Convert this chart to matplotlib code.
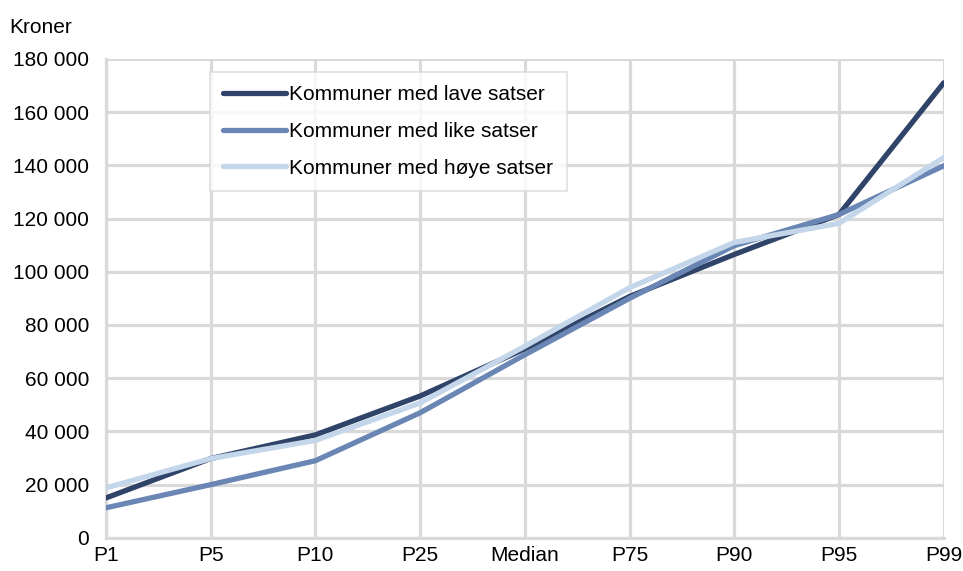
import matplotlib
matplotlib.use("Agg")
from matplotlib import pyplot as plt
from matplotlib.ticker import FuncFormatter

plt.rcParams['font.family'] = ['Liberation Sans', 'DejaVu Sans']

percentiles = ["P1", "P5", "P10", "P25", "Median", "P75", "P90", "P95", "P99"]
lave = [15000, 29800, 38700, 53300, 71000, 90700, 106500, 121500, 171000]
like = [11300, 20000, 29000, 47000, 68800, 90000, 109800, 121500, 139800]
hoye = [18800, 29800, 36600, 50700, 72000, 94000, 111000, 118200, 142900]

grid_col = "#d9d9d9"

fig = plt.figure(figsize=(9.63, 5.71), dpi=100)
ax = fig.add_axes([0.110, 0.058, 0.870, 0.839])

xs = list(range(len(percentiles)))
ax.plot(xs, lave, color="#2f4468", lw=3.8, solid_capstyle="round", label="Kommuner med lave satser", zorder=3)
ax.plot(xs, like, color="#6a86b4", lw=3.8, solid_capstyle="round", label="Kommuner med like satser", zorder=3)
ax.plot(xs, hoye, color="#c4d6e9", lw=3.8, solid_capstyle="round", label="Kommuner med høye satser", zorder=3)

ax.set_xlim(0, len(percentiles) - 1)
ax.set_ylim(0, 180000)
ax.set_xticks(xs)
ax.set_xticklabels(percentiles)
ax.set_yticks(range(0, 180001, 20000))
ax.yaxis.set_major_formatter(FuncFormatter(lambda v, p: "{:,}".format(int(v)).replace(",", " ")))
ax.tick_params(length=0, labelsize=15, colors="black")
ax.tick_params(axis="x", pad=6)
ax.tick_params(axis="y", pad=12)

ax.grid(True, color=grid_col, lw=2.3)
ax.set_axisbelow(True)
for s in ["top", "right"]:
    ax.spines[s].set_visible(False)
for s in ["left", "bottom"]:
    ax.spines[s].set_color(grid_col)
    ax.spines[s].set_linewidth(2.3)

leg = ax.legend(loc="upper left", bbox_to_anchor=(0.124, 0.973), fontsize=15,
                frameon=True, fancybox=False, handlelength=3.0, handletextpad=0.15,
                labelspacing=0.85, borderpad=0.65, borderaxespad=0)
leg.get_frame().set_edgecolor(grid_col)
leg.get_frame().set_linewidth(1.2)

fig.text(0.01, 0.968, "Kroner", fontsize=15, va="top", ha="left")

plt.savefig("out.png", dpi=100)
